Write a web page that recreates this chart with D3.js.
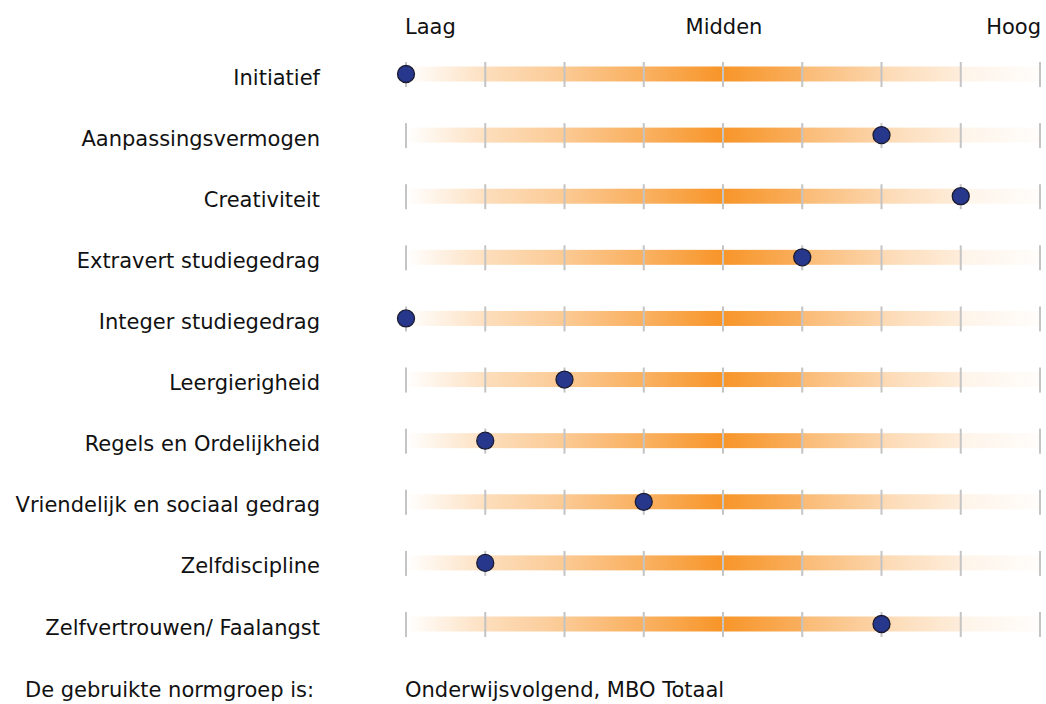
<!DOCTYPE html>
<html>
<head>
<meta charset="utf-8">
<script src="https://cdn.jsdelivr.net/npm/d3@7"></script>
<style>
  body { margin: 0; background: #fff; }
  svg text { font-family: "DejaVu Sans", Verdana, sans-serif; fill: #111; }
</style>
</head>
<body>
<div id="chart"></div>
<script>
// schalen en scores (1..9)
const categories = [
  'Initiatief',
  'Aanpassingsvermogen',
  'Creativiteit',
  'Extravert studiegedrag',
  'Integer studiegedrag',
  'Leergierigheid',
  'Regels en Ordelijkheid',
  'Vriendelijk en sociaal gedrag',
  'Zelfdiscipline',
  'Zelfvertrouwen/ Faalangst'
];
const scores = [1, 7, 8, 6, 1, 3, 2, 4, 2, 7];
const levels = [1, 2, 3, 4, 5, 6, 7, 8, 9];
const headerLabels = ['Laag', 'Midden', 'Hoog'];
const footerLabels = ['De gebruikte normgroep is:', 'Onderwijsvolgend, MBO Totaal'];
// opacity of the orange at start/end of each segment
const segStart = [0.0, 0.30, 0.48, 0.70, 0.95, 0.62, 0.34, 0.10];
const segEnd   = [0.28, 0.48, 0.72, 0.96, 0.72, 0.38, 0.16, 0.02];

const W = 1046, H = 704;
const FS = 21;
const svg = d3.select('#chart').append('svg')
  .attr('width', W).attr('height', H);

const x = d3.scaleLinear().domain([1, 9]).range([406, 1040]);
const y = d3.scalePoint().domain(categories).range([74, 624]);

const defs = svg.append('defs');
const segments = d3.range(levels.length - 1);
segments.forEach(i => {
  const g = defs.append('linearGradient').attr('id', 'seg' + i)
    .attr('x1', '0%').attr('x2', '100%');
  g.append('stop').attr('offset', '0%').attr('stop-color', '#f7901f').attr('stop-opacity', segStart[i]);
  g.append('stop').attr('offset', '100%').attr('stop-color', '#f7901f').attr('stop-opacity', segEnd[i]);
});

// header
svg.append('text').attr('x', x(1) - 1).attr('y', 34).attr('font-size', FS).text(headerLabels[0]);
svg.append('text').attr('x', x(5) + 1).attr('y', 34).attr('font-size', FS)
  .attr('text-anchor', 'middle').text(headerLabels[1]);
svg.append('text').attr('x', x(9) + 1).attr('y', 34).attr('font-size', FS)
  .attr('text-anchor', 'end').text(headerLabels[2]);

const rows = svg.selectAll('.row')
  .data(categories)
  .enter().append('g')
  .attr('class', 'row')
  .attr('transform', d => `translate(0,${y(d)})`);

rows.append('text')
  .attr('x', 320)
  .attr('dy', '0.5em')
  .attr('text-anchor', 'end')
  .attr('font-size', FS)
  .text(d => d);

rows.selectAll('.seg')
  .data(segments)
  .enter().append('rect')
  .attr('x', i => x(levels[i]))
  .attr('width', i => x(levels[i + 1]) - x(levels[i]))
  .attr('y', -7.5)
  .attr('height', 15)
  .attr('fill', i => `url(#seg${i})`);

rows.selectAll('.tick')
  .data(levels)
  .enter().append('rect')
  .attr('x', d => x(d) - 1)
  .attr('width', 2)
  .attr('y', -12)
  .attr('height', 25)
  .attr('fill', '#c4c4c4');

rows.append('circle')
  .attr('cx', (d, i) => x(scores[i]))
  .attr('r', 8.5)
  .attr('fill', '#26378c')
  .attr('stroke', '#1b1b30')
  .attr('stroke-width', 1.3);

// footer
svg.append('text').attr('x', 25).attr('y', 697).attr('font-size', FS).text(footerLabels[0]);
svg.append('text').attr('x', 405).attr('y', 697).attr('font-size', FS).text(footerLabels[1]);
</script>
</body>
</html>
